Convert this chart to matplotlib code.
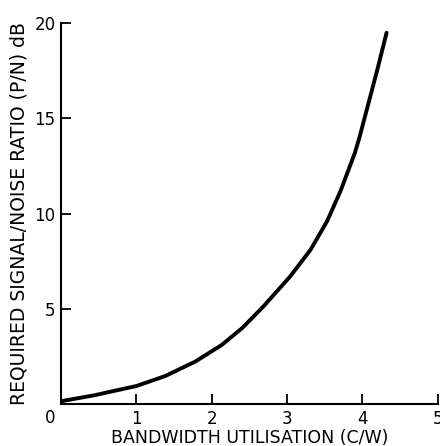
import matplotlib
matplotlib.use('Agg')
import matplotlib.pyplot as plt

# values
cw = [0.0, 0.45, 1.0, 1.38, 1.78, 2.13, 2.4, 2.58, 2.69, 3.04, 3.31, 3.53,
      3.71, 3.9, 3.96, 4.1, 4.2, 4.32]
pn = [0.15, 0.47, 0.95, 1.47, 2.23, 3.1, 3.98, 4.7, 5.15, 6.7, 8.1, 9.6,
      11.2, 13.2, 14.0, 16.1, 17.6, 19.5]

x_ticks = [1, 2, 3, 4, 5]
y_ticks = [5, 10, 15, 20]

plt.rcParams['font.family'] = ['DejaVu Sans']
fig = plt.figure(figsize=(4.40, 4.46), dpi=100)
ax = fig.add_axes([0.139, 0.094, 0.856, 0.854])

ax.plot(cw, pn, color='black', lw=2.8, solid_joinstyle='round', solid_capstyle='round')

ax.set_xlim(0, 5)
ax.set_ylim(0, 20)
ax.spines['top'].set_visible(False)
ax.spines['right'].set_visible(False)
for s in ('left', 'bottom'):
    ax.spines[s].set_linewidth(1.5)

ax.set_xticks(x_ticks)
ax.set_yticks(y_ticks)
ax.tick_params(direction='in', length=7, width=1.3, labelsize=12, pad=4)
# shared origin label sitting in the corner
ax.text(-0.015, -0.012, '0', transform=ax.transAxes, ha='right', va='top', fontsize=12)

ax.set_xlabel('BANDWIDTH UTILISATION (C/W)', fontsize=12.5, labelpad=1)
ax.set_ylabel('REQUIRED SIGNAL/NOISE RATIO (P/N) dB', fontsize=13.5, labelpad=4)

fig.savefig('out.png', dpi=100)
